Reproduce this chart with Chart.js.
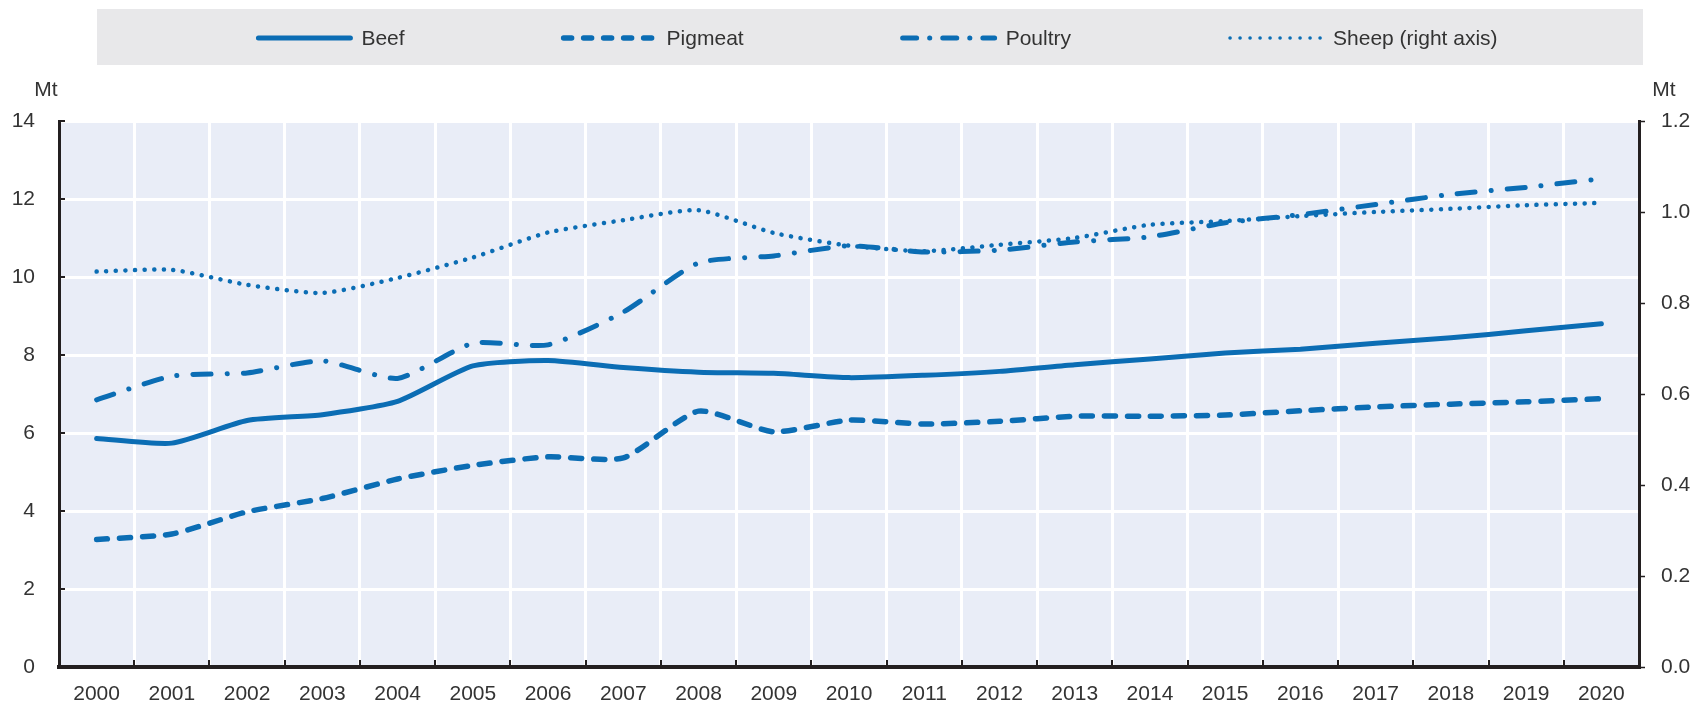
<!DOCTYPE html>
<html>
<head>
<meta charset="utf-8">
<script src="https://cdn.jsdelivr.net/npm/chart.js@4.4.1/dist/chart.umd.min.js"></script>
<style>
  html, body { margin: 0; padding: 0; background: #ffffff; }
  #wrap { width: 1700px; height: 707px; position: relative; }
</style>
</head>
<body>
<div id="wrap"><canvas id="chart" width="1700" height="707"></canvas></div>
<script>
// ---- data ----
const years = ['2000','2001','2002','2003','2004','2005','2006','2007','2008','2009','2010',
               '2011','2012','2013','2014','2015','2016','2017','2018','2019','2020'];
const beef    = [5.86, 5.74, 6.32, 6.47, 6.81, 7.72, 7.86, 7.68, 7.56, 7.53, 7.42,
                 7.48, 7.58, 7.75, 7.90, 8.05, 8.15, 8.30, 8.44, 8.62, 8.80];
const pigmeat = [3.27, 3.41, 3.98, 4.32, 4.82, 5.17, 5.39, 5.36, 6.56, 6.03, 6.33,
                 6.23, 6.30, 6.43, 6.43, 6.46, 6.57, 6.67, 6.74, 6.80, 6.88];
const poultry = [6.85, 7.46, 7.54, 7.85, 7.40, 8.30, 8.26, 9.10, 10.36, 10.54, 10.80,
                 10.64, 10.69, 10.90, 11.03, 11.39, 11.60, 11.86, 12.12, 12.30, 12.52];
const sheep   = [0.869, 0.873, 0.840, 0.822, 0.855, 0.900, 0.955, 0.982, 1.004, 0.954, 0.926,
                 0.914, 0.928, 0.943, 0.972, 0.980, 0.991, 1.000, 1.007, 1.015, 1.020];
const seriesNames = ['Beef', 'Pigmeat', 'Poultry', 'Sheep (right axis)'];
const leftTicks  = [0, 2, 4, 6, 8, 10, 12, 14];
const rightTicks = [0.0, 0.2, 0.4, 0.6, 0.8, 1.0, 1.2];
const unitLabel = 'Mt';

// ---- styles ----
const BLUE = '#0b6db4';
const TEXT = '#333333';
const AXIS = '#231f20';
const FONT = '"Liberation Sans", Arial, sans-serif';

const legendStyles = [
  { width: 5,   dash: [],                cap: 'round' },
  { width: 5.5, dash: [8, 12],           cap: 'round' },
  { width: 5,   dash: [14, 13, 0.1, 13], cap: 'round' },
  { width: 3.5, dash: [0.1, 9.9],        cap: 'round' }
];

const decorPlugin = {
  id: 'decor',
  beforeDraw(chart) {
    const { ctx, chartArea: ca } = chart;
    ctx.save();
    ctx.fillStyle = '#e9edf7';
    ctx.fillRect(ca.left, ca.top, ca.right - ca.left, ca.bottom - ca.top);
    ctx.restore();
  },
  beforeDatasetsDraw(chart) {
    const { ctx, chartArea: ca } = chart;
    const xs = chart.scales.x, ys = chart.scales.y;
    ctx.save();
    ctx.strokeStyle = AXIS;
    ctx.lineWidth = 2;
    for (let i = 1; i < years.length; i++) {
      const x = Math.round((xs.getPixelForValue(i - 1) + xs.getPixelForValue(i)) / 2);
      ctx.beginPath();
      ctx.moveTo(x, ca.bottom);
      ctx.lineTo(x, ca.bottom - 7);
      ctx.stroke();
    }
    leftTicks.forEach(v => {
      const y = Math.round(ys.getPixelForValue(v));
      ctx.beginPath();
      ctx.moveTo(ca.left, y);
      ctx.lineTo(ca.left + 6, y);
      ctx.stroke();
    });
    ctx.restore();
  },
  afterDraw(chart) {
    const { ctx, chartArea: ca } = chart;
    ctx.save();
    const boxL = ca.left + 38, boxR = ca.right + 4, boxT = 9, boxB = 65;
    ctx.fillStyle = '#e8e8ea';
    ctx.fillRect(boxL, boxT, boxR - boxL, boxB - boxT);
    ctx.font = '21px ' + FONT;
    const lineLen = 96, gap = 9, spacing = 157;
    const items = chart.data.datasets.map((ds, i) => ({ ds, st: legendStyles[i], w: ctx.measureText(ds.label).width }));
    let total = spacing * (items.length - 1);
    items.forEach(it => { total += lineLen + gap + it.w; });
    let x = (boxL + boxR) / 2 - total / 2 + 7;
    const cy = 38;
    items.forEach(it => {
      ctx.strokeStyle = it.ds.borderColor;
      ctx.lineWidth = it.st.width;
      ctx.lineCap = it.st.cap;
      ctx.setLineDash(it.st.dash);
      ctx.beginPath();
      ctx.moveTo(x + 2, cy);
      ctx.lineTo(x + lineLen - 2, cy);
      ctx.stroke();
      ctx.setLineDash([]);
      ctx.fillStyle = TEXT;
      ctx.textAlign = 'left';
      ctx.textBaseline = 'middle';
      ctx.fillText(it.ds.label, x + lineLen + gap, cy + 1);
      x += lineLen + gap + it.w + spacing;
    });
    ctx.font = '21px ' + FONT;
    ctx.fillStyle = TEXT;
    ctx.textAlign = 'center';
    ctx.textBaseline = 'alphabetic';
    ctx.fillText(unitLabel, 46, 96);
    ctx.fillText(unitLabel, ca.right + 25, 96);
    ctx.restore();
  }
};

new Chart(document.getElementById('chart'), {
  type: 'line',
  data: {
    labels: years,
    datasets: [
      { label: seriesNames[0], data: beef, yAxisID: 'y', borderColor: BLUE, borderWidth: 5,
        borderCapStyle: 'round', borderJoinStyle: 'round', tension: 0.2, pointRadius: 0, fill: false },
      { label: seriesNames[1], data: pigmeat, yAxisID: 'y', borderColor: BLUE, borderWidth: 5.5,
        borderDash: [11, 12], borderCapStyle: 'round', tension: 0.2, pointRadius: 0, fill: false },
      { label: seriesNames[2], data: poultry, yAxisID: 'y', borderColor: BLUE, borderWidth: 5,
        borderDash: [18, 16, 0.1, 16], borderCapStyle: 'round', tension: 0.2, pointRadius: 0, fill: false },
      { label: seriesNames[3], data: sheep, yAxisID: 'y1', borderColor: BLUE, borderWidth: 4.5,
        borderDash: [0.1, 9.5], borderCapStyle: 'round', tension: 0.2, pointRadius: 0, fill: false }
    ]
  },
  options: {
    responsive: false,
    animation: false,
    devicePixelRatio: 1,
    layout: { padding: { top: 121, left: 0, right: 0, bottom: 0 } },
    plugins: { legend: { display: false }, tooltip: { enabled: false } },
    scales: {
      x: {
        type: 'category',
        offset: true,
        grid: { offset: true, color: '#ffffff', lineWidth: 3, drawTicks: false },
        border: { display: true, color: AXIS, width: 4 },
        ticks: { color: TEXT, font: { family: FONT, size: 21 }, padding: 15, maxRotation: 0, autoSkip: false },
        afterFit(scale) { scale.height = 40; }
      },
      y: {
        position: 'left',
        min: 0, max: 14,
        afterBuildTicks(scale) { scale.ticks = leftTicks.map(v => ({ value: v })); },
        grid: { color: '#ffffff', lineWidth: 3, drawTicks: false },
        border: { display: true, color: AXIS, width: 3 },
        ticks: { color: TEXT, font: { family: FONT, size: 21 }, padding: 24 },
        afterFit(scale) { scale.width = 59; }
      },
      y1: {
        position: 'right',
        min: 0, max: 1.2,
        afterBuildTicks(scale) { scale.ticks = rightTicks.map(v => ({ value: v })); },
        grid: { drawOnChartArea: false, drawTicks: true, tickLength: 6, tickColor: AXIS, tickWidth: 1.5 },
        border: { display: true, color: AXIS, width: 3 },
        ticks: { color: TEXT, font: { family: FONT, size: 21 }, padding: 16,
                 callback: v => Number(v).toFixed(1) },
        afterFit(scale) { scale.width = 61; }
      }
    }
  },
  plugins: [decorPlugin]
});
</script>
</body>
</html>
